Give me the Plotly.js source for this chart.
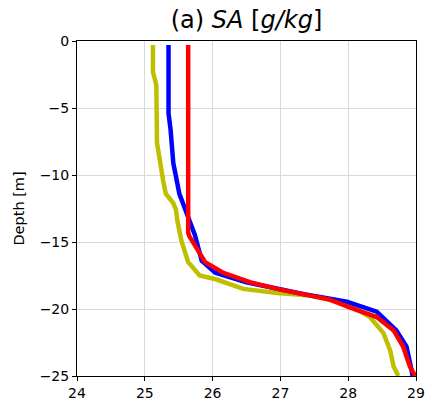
<!DOCTYPE html>
<html><head><meta charset="utf-8">
<script src="https://cdn.plot.ly/plotly-3.0.1.min.js"></script>
<style>html,body{margin:0;padding:0;background:#fff}</style>
</head><body><div id="chart" style="width:425px;height:401px"></div>
<script>
const depthYellow = [-0.3, -2.3, -3.3, -7.6, -10.4, -11.4, -12.1, -12.6, -13.4, -14.9, -16.5, -17.5, -17.8, -18.5, -18.8, -19.0, -19.45, -19.9, -20.6, -21.8, -23.1, -24.3, -25.0];
const saYellow    = [25.12, 25.12, 25.17, 25.18, 25.27, 25.31, 25.42, 25.46, 25.48, 25.54, 25.64, 25.81, 26.06, 26.45, 26.95, 27.44, 27.83, 28.08, 28.32, 28.52, 28.62, 28.67, 28.74];
const depthBlue   = [-0.3, -5.4, -6.6, -9.1, -11.4, -12.4, -14.1, -14.5, -16.4, -17.3, -18.0, -18.5, -18.9, -19.45, -20.2, -21.6, -22.8, -24.7, -25.0];
const saBlue      = [25.35, 25.35, 25.38, 25.42, 25.51, 25.59, 25.72, 25.74, 25.84, 26.04, 26.5, 26.95, 27.35, 27.98, 28.42, 28.71, 28.86, 28.94, 28.95];
const depthRed    = [-0.3, -14.3, -14.6, -16.5, -17.3, -18.0, -18.5, -18.9, -19.3, -19.9, -20.6, -21.6, -22.8, -24.3, -25.0];
const saRed       = [25.64, 25.64, 25.66, 25.89, 26.16, 26.55, 26.95, 27.34, 27.73, 28.03, 28.42, 28.67, 28.81, 28.91, 28.99];
const xTicks = [24, 25, 26, 27, 28, 29];
const yTicks = [0, -5, -10, -15, -20, -25];

const mk = (x, y, c) => ({x: x, y: y, type: 'scatter', mode: 'lines', line: {color: c, width: 4.5}, hoverinfo: 'skip'});
const data = [mk(saYellow, depthYellow, '#bfbf00'), mk(saBlue, depthBlue, '#0000ff'), mk(saRed, depthRed, '#ff0000')];
const axBase = {showline: true, mirror: true, linecolor: '#000', linewidth: 1, ticks: 'outside', ticklen: 4, tickcolor: '#000',
  showgrid: true, gridcolor: '#d9d9d9', gridwidth: 1, zeroline: false, tickfont: {family: 'DejaVu Sans', size: 14, color: '#000'}};
const layout = {
  width: 425, height: 401, showlegend: false,
  paper_bgcolor: '#fff', plot_bgcolor: '#fff',
  margin: {l: 77, r: 9, t: 41, b: 25},
  title: {text: '(a) <i>SA</i> [<i>g/kg</i>]', font: {family: 'DejaVu Sans', size: 24, color: '#000'}, x: 0.58, xanchor: 'center', y: 0.95, yanchor: 'middle'},
  xaxis: Object.assign({}, axBase, {range: [24, 29], tickvals: xTicks, ticktext: xTicks.map(String)}),
  yaxis: Object.assign({}, axBase, {range: [-25, 0], tickvals: yTicks, ticktext: yTicks.map(v => v === 0 ? '0' : '\u2212' + Math.abs(v)),
    title: {text: 'Depth [m]', font: {family: 'DejaVu Sans', size: 14.5, color: '#000'}, standoff: 11}})
};
Plotly.newPlot('chart', data, layout, {displayModeBar: false, staticPlot: true});
</script></body></html>
